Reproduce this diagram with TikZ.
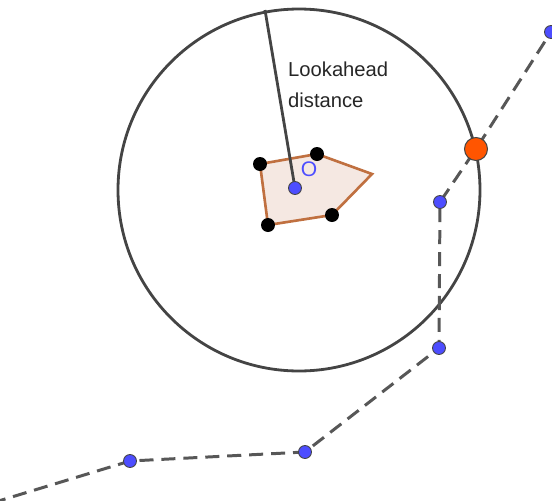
\documentclass[tikz,border=0pt]{standalone}
\usepackage{fontspec}
\setmainfont{Liberation Sans}
\usepackage{xcolor}
\usetikzlibrary{positioning}
\definecolor{pp-blue}{RGB}{77,77,255}
\definecolor{pp-orange}{RGB}{255,85,0}
\definecolor{pp-edge}{RGB}{192,112,64}
\definecolor{pp-fill}{RGB}{245,232,226}
\definecolor{pp-gray}{RGB}{68,68,68}

\begin{document}
\begin{tikzpicture}[x=0.02cm, y=-0.02cm,
  waypt/.style={circle, draw=pp-gray, fill=pp-blue, inner sep=0pt, minimum size=0.26cm, line width=0.5pt},
  corner/.style={circle, fill=black, inner sep=0pt, minimum size=0.28cm},
  goalpt/.style={circle, draw=pp-gray, fill=pp-orange, inner sep=0pt, minimum size=0.46cm, line width=0.6pt},
  track/.style={pp-gray!90, line width=1.7pt, dash pattern=on 8pt off 4.5pt},
]
  \useasboundingbox (0,0) rectangle (552,501);
  \clip (0,0) rectangle (552,501);

  % Lookahead circle
  \draw[pp-gray, line width=1.6pt] (299,190) circle (181);

  % Robot footprint
  \coordinate (c1) at (260,164);
  \coordinate (c2) at (317,154);
  \coordinate (c3) at (372,174);
  \coordinate (c4) at (332,215);
  \coordinate (c5) at (268,225);
  \draw[pp-edge, fill=pp-fill, line width=1.5pt] (c1) -- (c2) -- (c3) -- (c4) -- (c5) -- cycle;

  % Path coordinates
  \coordinate (start) at (-8,503);
  \coordinate (p1) at (130,461);
  \coordinate (p2) at (305,452);
  \coordinate (p3) at (439,348);
  \coordinate (p4) at (440,202);
  \coordinate (p5) at (551,32);
  \coordinate (hit) at (476,149);
  \coordinate (robotc) at (295,188);
  \coordinate (top) at (265,10);

  % Lookahead radius
  \draw[pp-gray, line width=1.6pt] (robotc) -- (top);

  % Dashed path
  \draw[track] (start) -- (p1) -- (p2) -- (p3) -- (p4) -- (hit) -- (p5);

  % Footprint corners
  \foreach \c in {c1,c2,c4,c5}
    \node[corner] at (\c) {};

  % Waypoints
  \foreach \w in {p1,p2,p3,p4,p5}
    \node[waypt] (w-\w) at (\w) {};
  \node[waypt] (robot) at (robotc) {};
  \node[goalpt] (goal) at (hit) {};

  % Labels
  \node[text=pp-blue, font=\fontsize{12}{14}\selectfont] (olabel) at (309,169) {O};
  \node[text=black!85, font=\fontsize{11.5}{17.6}\selectfont, align=left, anchor=north west] (label) at (282,56) {Lookahead\\distance};
\end{tikzpicture}
\end{document}
